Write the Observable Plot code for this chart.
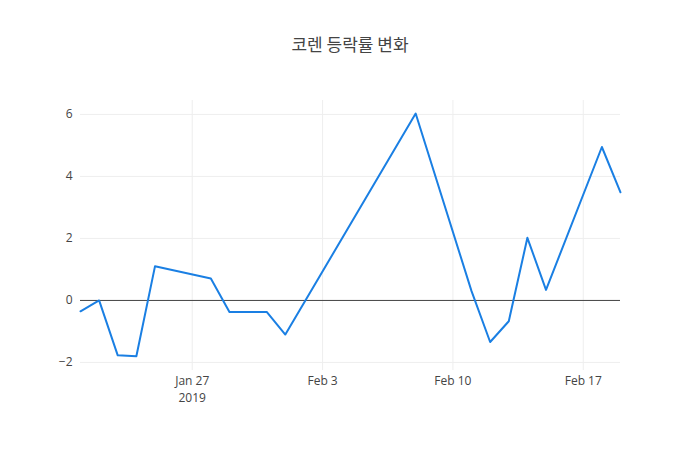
<!DOCTYPE html>
<html>
<head>
<meta charset="utf-8">
<script src="https://cdn.jsdelivr.net/npm/d3@7"></script>
<script src="https://cdn.jsdelivr.net/npm/@observablehq/plot@0.6"></script>
<style>
  html, body { margin: 0; padding: 0; background: #fff; }
  #wrap { position: relative; width: 700px; height: 450px; }
  #title { position: absolute; top: 31px; left: 0; width: 700px; text-align: center;
    font-family: "Noto Sans CJK KR", "Open Sans", sans-serif; font-size: 17px; color: #444; }
  svg { font-family: "Open Sans", sans-serif; }
</style>
</head>
<body>
<div id="wrap"><div id="title">코렌 등락률 변화</div></div>
<script>
const dates = ["2019-01-21","2019-01-22","2019-01-23","2019-01-24","2019-01-25","2019-01-28","2019-01-29","2019-01-30","2019-01-31","2019-02-01","2019-02-08","2019-02-11","2019-02-12","2019-02-13","2019-02-14","2019-02-15","2019-02-18","2019-02-19"];
const values = [-0.35, 0.0, -1.77, -1.8, 1.1, 0.71, -0.37, -0.37, -0.37, -1.1, 6.03, 0.3, -1.34, -0.67, 2.02, 0.34, 4.95, 3.49];
const yTicks = [-2, 0, 2, 4, 6];
const xTicks = ["2019-01-27","2019-02-03","2019-02-10","2019-02-17"];
const xTickLabels = ["Jan 27\n2019", "Feb 3", "Feb 10", "Feb 17"];

const data = dates.map((d, i) => ({date: new Date(d + "T00:00:00Z"), value: values[i]}));
const xt = xTicks.map(d => new Date(d + "T00:00:00Z"));

const chart = Plot.plot({
  width: 700,
  height: 450,
  marginTop: 100,
  marginBottom: 80,
  marginLeft: 80,
  marginRight: 80,
  style: {fontFamily: "Open Sans, sans-serif", fontSize: "12px", color: "#444", background: "#fff"},
  x: {type: "utc", domain: [data[0].date, data[data.length - 1].date]},
  y: {domain: [-2.26, 6.45]},
  marks: [
    Plot.gridY(yTicks, {stroke: "#eee", strokeOpacity: 1}),
    Plot.gridX(xt, {stroke: "#eee", strokeOpacity: 1}),
    Plot.ruleY([0], {stroke: "#444", strokeWidth: 1}),
    Plot.axisY(yTicks, {tickSize: 0, tickPadding: 8, fontSize: 12, fill: "#444", label: null,
      tickFormat: d => d < 0 ? "\u2212" + Math.abs(d) : String(d)}),
    Plot.axisX(xt, {tickSize: 0, tickPadding: 3, fontSize: 12, lineHeight: 1.4, fill: "#444", label: null,
      tickFormat: (d, i) => xTickLabels[i]}),
    Plot.line(data, {x: "date", y: "value", stroke: "#1a7fe3", strokeWidth: 2, curve: "linear"})
  ]
});
const wrap = document.getElementById("wrap");
chart.style.position = "absolute";
chart.style.top = "0";
chart.style.left = "0";
wrap.insertBefore(chart, wrap.firstChild);
</script>
</body>
</html>
